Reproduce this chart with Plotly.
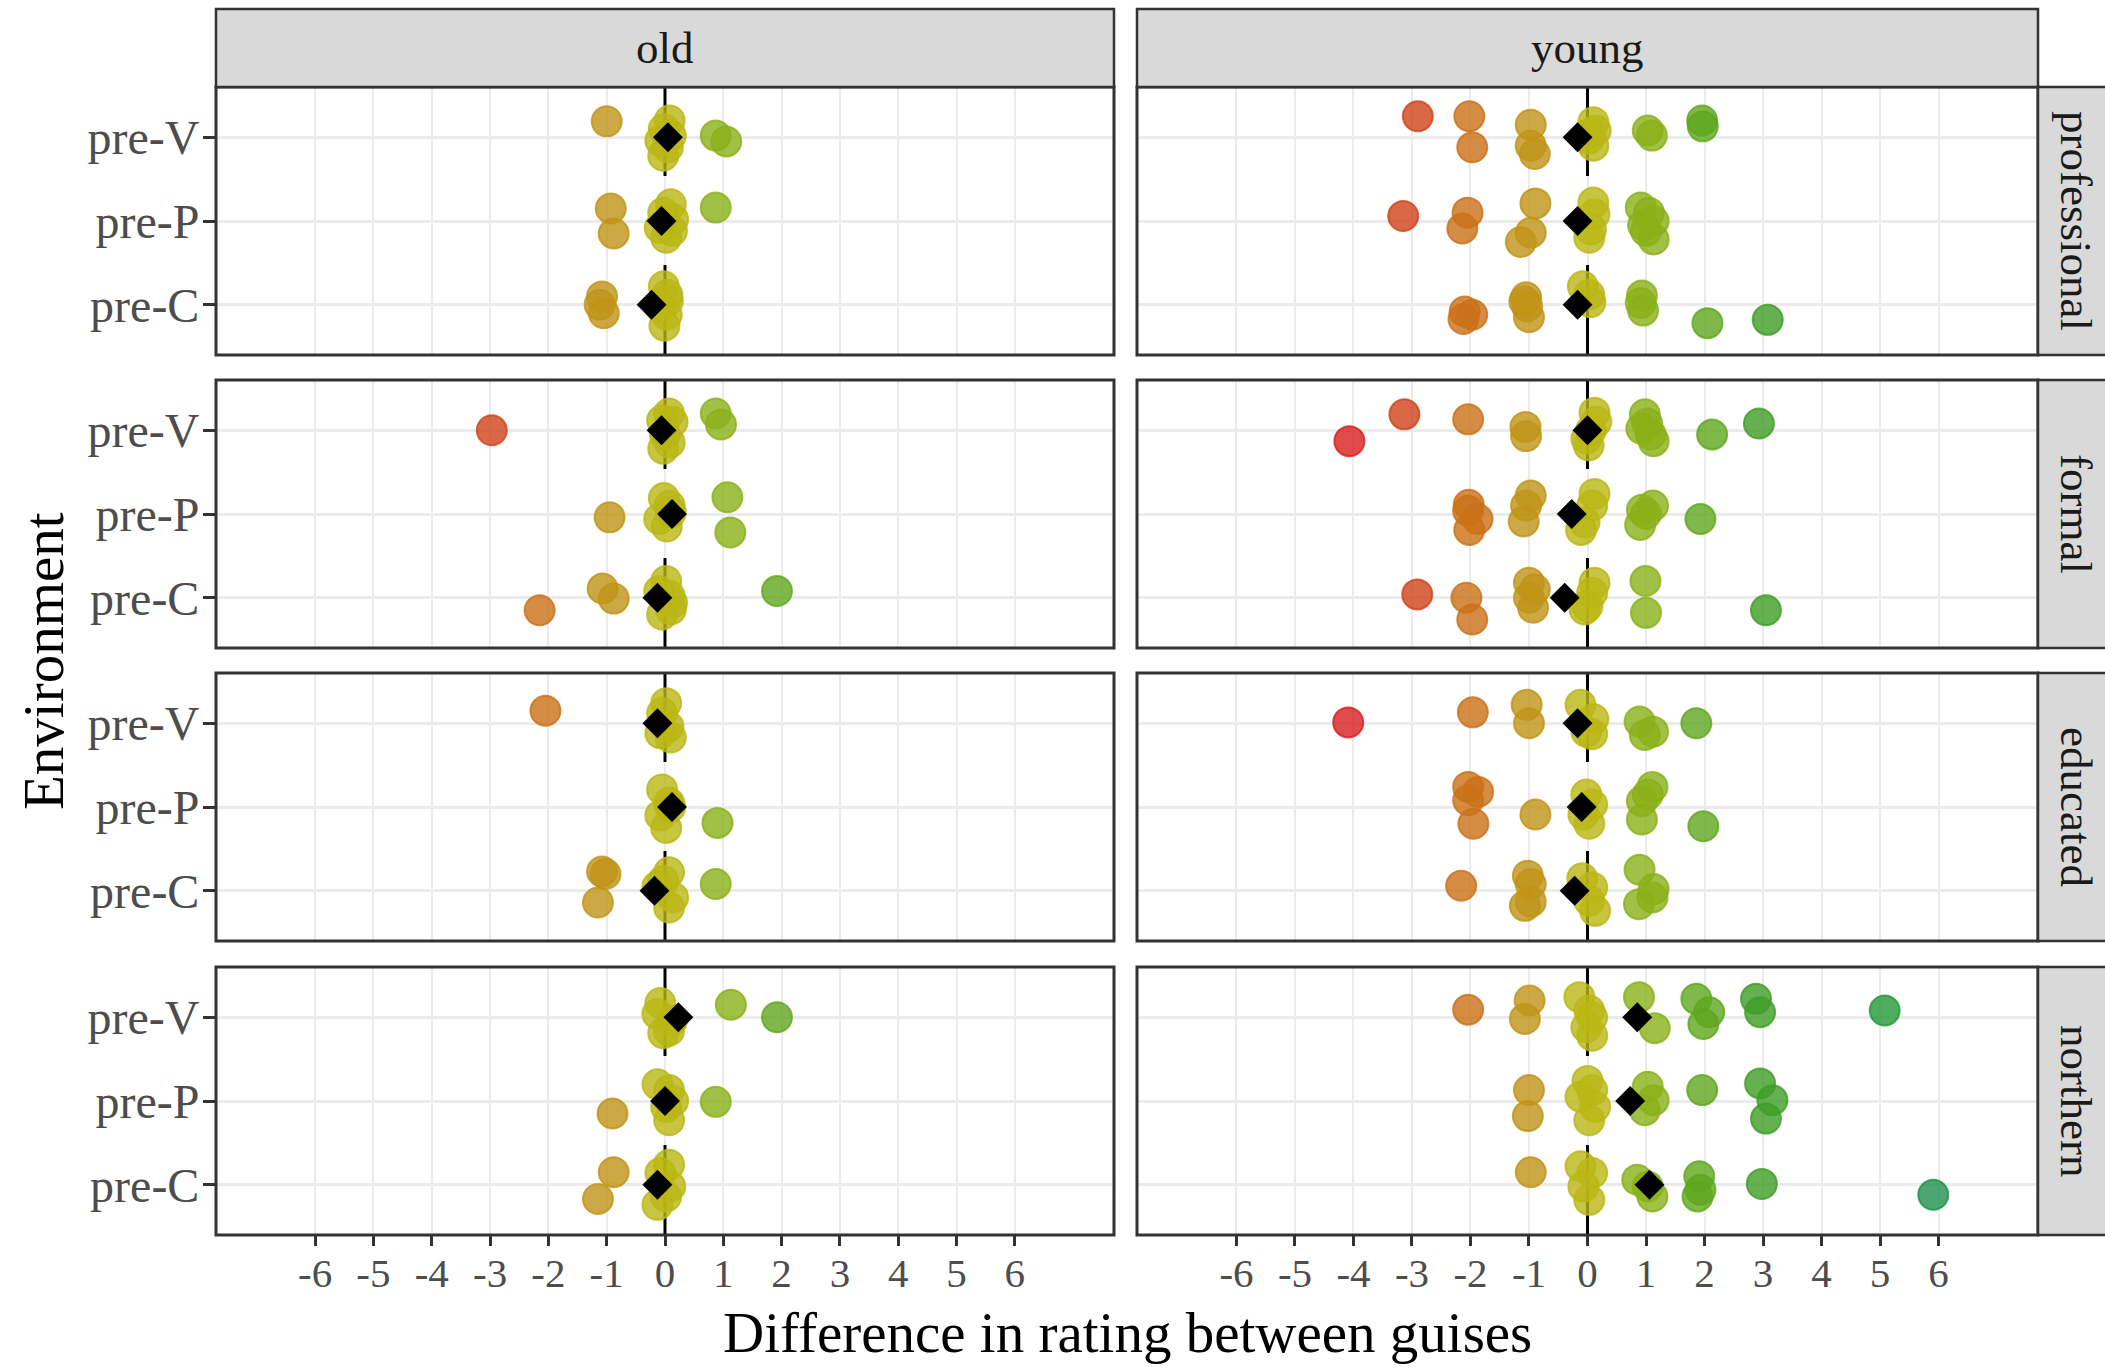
import plotly.graph_objects as go

W, H = 2105, 1369
FONT = "Liberation Serif"

environments = ["pre-C", "pre-P", "pre-V"]          # bottom -> top
ages = ["old", "young"]
registers = ["professional", "formal", "educated", "northern"]
x_ticks = list(range(-6, 7))
mean_env_order = ["pre-V", "pre-P", "pre-C"]
reference_x = 0

# colour scale anchors (difference value -> colour)
scale_values = [-4, -3, -2, -1, 0, 1, 2, 3, 4, 5, 6]
scale_colors = [(218, 30, 30), (208, 66, 26), (202, 112, 24), (192, 148, 22),
                (186, 182, 20), (138, 176, 24), (95, 166, 30), (62, 158, 38),
                (45, 155, 48), (35, 152, 55), (30, 145, 75)]

# rows: (environment, difference, jittered x, vertical jitter)
old_professional = [
    ("pre-V", -1, -1.00, 0.19),
    ("pre-V", 0, 0.08, 0.20), ("pre-V", 0, -0.02, 0.10), ("pre-V", 0, -0.08, -0.04),
    ("pre-V", 0, 0.05, -0.12), ("pre-V", 0, -0.03, -0.22), ("pre-V", 0, 0.10, 0.02),
    ("pre-V", 1, 0.87, 0.02), ("pre-V", 1, 1.05, -0.05),
    ("pre-P", -1, -0.93, 0.15), ("pre-P", -1, -0.88, -0.15),
    ("pre-P", 0, 0.10, 0.20), ("pre-P", 0, -0.03, 0.10), ("pre-P", 0, -0.09, -0.08),
    ("pre-P", 0, 0.12, -0.12), ("pre-P", 0, 0.02, -0.20), ("pre-P", 0, 0.14, 0.02),
    ("pre-P", 1, 0.87, 0.16),
    ("pre-C", -1, -1.08, 0.10), ("pre-C", -1, -1.05, -0.10), ("pre-C", -1, -1.12, 0.00),
    ("pre-C", 0, -0.02, 0.22), ("pre-C", 0, 0.04, 0.12), ("pre-C", 0, -0.09, -0.02),
    ("pre-C", 0, 0.03, -0.12), ("pre-C", 0, -0.01, -0.25), ("pre-C", 0, 0.05, 0.05),
]
young_professional = [
    ("pre-V", -3, -2.90, 0.25), ("pre-V", -2, -2.02, 0.25), ("pre-V", -2, -1.97, -0.12),
    ("pre-V", -1, -0.97, 0.15), ("pre-V", -1, -0.97, -0.10), ("pre-V", -1, -0.90, -0.20),
    ("pre-V", 0, 0.10, 0.18), ("pre-V", 0, 0.14, 0.08), ("pre-V", 0, 0.02, -0.02),
    ("pre-V", 0, 0.10, -0.10), ("pre-V", 0, 0.05, 0.05),
    ("pre-V", 1, 1.03, 0.08), ("pre-V", 1, 1.10, 0.02),
    ("pre-V", 2, 1.96, 0.20), ("pre-V", 2, 1.97, 0.13),
    ("pre-P", -3, -3.15, 0.06), ("pre-P", -2, -2.05, 0.10), ("pre-P", -2, -2.14, -0.09),
    ("pre-P", -1, -0.89, 0.21), ("pre-P", -1, -0.97, -0.14), ("pre-P", -1, -1.14, -0.25),
    ("pre-P", 0, 0.10, 0.22), ("pre-P", 0, 0.12, 0.08), ("pre-P", 0, 0.06, -0.10),
    ("pre-P", 0, 0.03, -0.20),
    ("pre-P", 1, 0.91, 0.16), ("pre-P", 1, 1.05, 0.10), ("pre-P", 1, 1.13, 0.00),
    ("pre-P", 1, 0.95, -0.05), ("pre-P", 1, 1.13, -0.22), ("pre-P", 1, 1.00, -0.12),
    ("pre-C", -2, -2.10, -0.08), ("pre-C", -2, -1.97, -0.12), ("pre-C", -2, -2.12, -0.17),
    ("pre-C", -1, -1.05, 0.09), ("pre-C", -1, -1.03, -0.02), ("pre-C", -1, -1.00, -0.15),
    ("pre-C", -1, -1.08, 0.04),
    ("pre-C", 0, -0.08, 0.22), ("pre-C", 0, 0.03, 0.12), ("pre-C", 0, 0.05, 0.03),
    ("pre-C", 1, 0.93, 0.11), ("pre-C", 1, 0.91, 0.02), ("pre-C", 1, 0.95, -0.07),
    ("pre-C", 2, 2.05, -0.22), ("pre-C", 3, 3.08, -0.18),
]
old_formal = [
    ("pre-V", -3, -2.97, 0.00),
    ("pre-V", 0, 0.07, 0.20), ("pre-V", 0, -0.05, 0.12), ("pre-V", 0, 0.13, 0.10),
    ("pre-V", 0, 0.00, -0.05), ("pre-V", 0, 0.08, -0.15), ("pre-V", 0, -0.03, -0.22),
    ("pre-V", 1, 0.87, 0.20), ("pre-V", 1, 0.96, 0.07),
    ("pre-P", -1, -0.95, -0.04),
    ("pre-P", 0, -0.02, 0.19), ("pre-P", 0, 0.08, 0.10), ("pre-P", 0, -0.10, -0.06),
    ("pre-P", 0, 0.03, -0.15), ("pre-P", 0, 0.10, 0.02),
    ("pre-P", 1, 1.07, 0.20), ("pre-P", 1, 1.12, -0.22),
    ("pre-C", -2, -2.15, -0.15), ("pre-C", -1, -1.07, 0.11), ("pre-C", -1, -0.88, -0.01),
    ("pre-C", 0, 0.02, 0.20), ("pre-C", 0, -0.10, 0.08), ("pre-C", 0, 0.12, -0.06),
    ("pre-C", 0, -0.05, -0.20), ("pre-C", 0, 0.08, 0.02), ("pre-C", 0, 0.10, -0.14),
    ("pre-C", 2, 1.92, 0.08),
]
young_formal = [
    ("pre-V", -4, -4.07, -0.13), ("pre-V", -3, -3.13, 0.19), ("pre-V", -2, -2.04, 0.13),
    ("pre-V", -1, -1.06, 0.04), ("pre-V", -1, -1.05, -0.07),
    ("pre-V", 0, 0.12, 0.21), ("pre-V", 0, 0.15, 0.10), ("pre-V", 0, -0.02, -0.10),
    ("pre-V", 0, 0.02, -0.18), ("pre-V", 0, 0.06, 0.00),
    ("pre-V", 1, 0.98, 0.19), ("pre-V", 1, 0.92, 0.02), ("pre-V", 1, 1.08, -0.05),
    ("pre-V", 1, 1.13, -0.13), ("pre-V", 1, 1.02, 0.08),
    ("pre-V", 2, 2.13, -0.05), ("pre-V", 3, 2.93, 0.08),
    ("pre-P", -2, -2.03, 0.11), ("pre-P", -2, -2.04, 0.04), ("pre-P", -2, -1.88, -0.06),
    ("pre-P", -2, -2.02, -0.19),
    ("pre-P", -1, -0.97, 0.22), ("pre-P", -1, -1.05, 0.10), ("pre-P", -1, -1.09, -0.09),
    ("pre-P", 0, 0.12, 0.24), ("pre-P", 0, 0.08, 0.10), ("pre-P", 0, -0.11, -0.19),
    ("pre-P", 0, -0.05, -0.10),
    ("pre-P", 1, 0.93, 0.05), ("pre-P", 1, 1.12, 0.10), ("pre-P", 1, 0.90, -0.13),
    ("pre-P", 1, 1.00, 0.00),
    ("pre-P", 2, 1.93, -0.06),
    ("pre-C", -3, -2.91, 0.04), ("pre-C", -2, -2.07, 0.00), ("pre-C", -2, -1.97, -0.26),
    ("pre-C", -1, -1.00, 0.18), ("pre-C", -1, -0.90, 0.10), ("pre-C", -1, -0.93, -0.12),
    ("pre-C", -1, -1.00, 0.00),
    ("pre-C", 0, 0.12, 0.18), ("pre-C", 0, 0.08, 0.06), ("pre-C", 0, 0.00, -0.10),
    ("pre-C", 0, -0.05, -0.14),
    ("pre-C", 1, 0.99, 0.20), ("pre-C", 1, 1.00, -0.18), ("pre-C", 3, 3.05, -0.15),
]
old_educated = [
    ("pre-V", -2, -2.05, 0.15),
    ("pre-V", 0, 0.02, 0.24), ("pre-V", 0, -0.05, 0.12), ("pre-V", 0, 0.06, -0.04),
    ("pre-V", 0, -0.08, -0.12), ("pre-V", 0, 0.10, -0.17),
    ("pre-P", 0, -0.05, 0.21), ("pre-P", 0, 0.07, 0.05), ("pre-P", 0, -0.08, -0.10),
    ("pre-P", 0, 0.02, -0.25), ("pre-P", 0, 0.09, 0.00),
    ("pre-P", 1, 0.90, -0.19),
    ("pre-C", -1, -1.08, 0.23), ("pre-C", -1, -1.15, -0.14), ("pre-C", -1, -1.02, 0.20),
    ("pre-C", 0, 0.07, 0.22), ("pre-C", 0, -0.13, 0.05), ("pre-C", 0, 0.14, -0.08),
    ("pre-C", 0, 0.07, -0.20), ("pre-C", 0, -0.03, 0.12),
    ("pre-C", 1, 0.87, 0.08),
]
young_educated = [
    ("pre-V", -4, -4.09, 0.01), ("pre-V", -2, -1.96, 0.13),
    ("pre-V", -1, -1.04, 0.22), ("pre-V", -1, -1.00, 0.00),
    ("pre-V", 0, -0.12, 0.22), ("pre-V", 0, 0.10, 0.05), ("pre-V", 0, -0.02, -0.10),
    ("pre-V", 0, 0.08, -0.13),
    ("pre-V", 1, 0.89, 0.02), ("pre-V", 1, 1.12, -0.10), ("pre-V", 1, 0.98, -0.14),
    ("pre-V", 2, 1.86, 0.00),
    ("pre-P", -2, -2.04, 0.24), ("pre-P", -2, -1.87, 0.18), ("pre-P", -2, -2.04, 0.08),
    ("pre-P", -2, -1.95, -0.20), ("pre-P", -1, -0.89, -0.09),
    ("pre-P", 0, -0.02, 0.15), ("pre-P", 0, 0.08, 0.03), ("pre-P", 0, 0.03, -0.20),
    ("pre-P", 0, -0.07, -0.09),
    ("pre-P", 1, 1.11, 0.24), ("pre-P", 1, 0.93, 0.07), ("pre-P", 1, 0.93, -0.15),
    ("pre-P", 1, 1.03, 0.15), ("pre-P", 2, 1.98, -0.23),
    ("pre-C", -2, -2.16, 0.06),
    ("pre-C", -1, -1.02, 0.18), ("pre-C", -1, -0.97, 0.08), ("pre-C", -1, -1.07, -0.18),
    ("pre-C", -1, -0.97, -0.13),
    ("pre-C", 0, -0.09, 0.15), ("pre-C", 0, 0.08, 0.04), ("pre-C", 0, 0.03, -0.12),
    ("pre-C", 0, 0.13, -0.24),
    ("pre-C", 1, 0.89, 0.25), ("pre-C", 1, 1.13, 0.02), ("pre-C", 1, 0.88, -0.16),
    ("pre-C", 1, 1.11, -0.08),
]
old_northern = [
    ("pre-V", 0, -0.08, 0.17), ("pre-V", 0, -0.13, 0.04), ("pre-V", 0, 0.07, -0.16),
    ("pre-V", 0, -0.03, -0.19), ("pre-V", 0, 0.12, -0.04),
    ("pre-V", 1, 1.13, 0.15), ("pre-V", 2, 1.92, 0.00),
    ("pre-P", -1, -0.90, -0.15),
    ("pre-P", 0, -0.13, 0.20), ("pre-P", 0, 0.07, 0.13), ("pre-P", 0, 0.02, -0.07),
    ("pre-P", 0, 0.07, -0.23), ("pre-P", 0, 0.14, 0.00),
    ("pre-P", 1, 0.87, -0.01),
    ("pre-C", -1, -0.88, 0.15), ("pre-C", -1, -1.15, -0.17),
    ("pre-C", 0, 0.07, 0.24), ("pre-C", 0, -0.08, 0.14), ("pre-C", 0, 0.09, -0.02),
    ("pre-C", 0, -0.13, -0.24), ("pre-C", 0, 0.02, -0.14),
]
young_northern = [
    ("pre-V", -2, -2.04, 0.09), ("pre-V", -1, -0.99, 0.20), ("pre-V", -1, -1.07, -0.02),
    ("pre-V", 0, -0.14, 0.24), ("pre-V", 0, 0.03, 0.08), ("pre-V", 0, -0.02, -0.12),
    ("pre-V", 0, 0.08, -0.22), ("pre-V", 0, 0.08, 0.00),
    ("pre-V", 1, 0.88, 0.24), ("pre-V", 1, 1.15, -0.13),
    ("pre-V", 2, 1.86, 0.22), ("pre-V", 2, 2.08, 0.06), ("pre-V", 2, 1.98, -0.08),
    ("pre-V", 3, 2.88, 0.22), ("pre-V", 3, 2.95, 0.06), ("pre-V", 5, 5.08, 0.08),
    ("pre-P", -1, -1.00, 0.13), ("pre-P", -1, -1.02, -0.18),
    ("pre-P", 0, 0.00, 0.24), ("pre-P", 0, -0.12, 0.05), ("pre-P", 0, 0.13, -0.07),
    ("pre-P", 0, 0.03, -0.23), ("pre-P", 0, 0.08, 0.13),
    ("pre-P", 1, 1.03, 0.17), ("pre-P", 1, 1.13, 0.01), ("pre-P", 1, 0.98, -0.11),
    ("pre-P", 2, 1.96, 0.13),
    ("pre-P", 3, 2.95, 0.21), ("pre-P", 3, 3.16, 0.01), ("pre-P", 3, 3.05, -0.21),
    ("pre-C", -1, -0.97, 0.15),
    ("pre-C", 0, -0.12, 0.22), ("pre-C", 0, 0.08, 0.14), ("pre-C", 0, 0.03, -0.18),
    ("pre-C", 0, -0.07, -0.02),
    ("pre-C", 1, 0.85, 0.06), ("pre-C", 1, 1.11, -0.14), ("pre-C", 1, 1.03, -0.02),
    ("pre-C", 2, 1.91, 0.10), ("pre-C", 2, 1.93, -0.06), ("pre-C", 2, 1.88, -0.14),
    ("pre-C", 3, 2.98, 0.01), ("pre-C", 6, 5.91, -0.12),
]

# group means (pre-V, pre-P, pre-C)
mean_old_professional = [0.05, -0.06, -0.23]
mean_young_professional = [-0.17, -0.17, -0.17]
mean_old_formal = [-0.06, 0.12, -0.13]
mean_young_formal = [0.00, -0.27, -0.39]
mean_old_educated = [-0.13, 0.12, -0.18]
mean_young_educated = [-0.17, -0.10, -0.22]
mean_old_northern = [0.23, 0.00, -0.13]
mean_young_northern = [0.85, 0.73, 1.06]

panels = {
    ("old", "professional"): (old_professional, mean_old_professional),
    ("young", "professional"): (young_professional, mean_young_professional),
    ("old", "formal"): (old_formal, mean_old_formal),
    ("young", "formal"): (young_formal, mean_young_formal),
    ("old", "educated"): (old_educated, mean_old_educated),
    ("young", "educated"): (young_educated, mean_young_educated),
    ("old", "northern"): (old_northern, mean_old_northern),
    ("young", "northern"): (young_northern, mean_young_northern),
}

# ---------------- layout geometry (pixels) ----------------
col_px = [(216, 1114), (1137, 2038)]
row_px = [(87, 355), (380, 648), (673, 941), (967, 1235)]
strip_top = (9, 87)
right_strip = (2038, 2125)
y_range = [0.4, 3.6]

cmin, cmax = min(scale_values), max(scale_values)
fill_scale = [[(v - cmin) / (cmax - cmin), "rgba(%d,%d,%d,0.8)" % c]
              for v, c in zip(scale_values, scale_colors)]

fig = go.Figure()
layout = dict(width=W, height=H, margin=dict(l=0, r=0, t=0, b=0),
              paper_bgcolor="white", plot_bgcolor="white", showlegend=False,
              font=dict(family=FONT), shapes=[], annotations=[])

for ri, reg in enumerate(registers):
    for ci, age in enumerate(ages):
        k = ri * 2 + ci + 1
        xa = "x" if k == 1 else "x%d" % k
        ya = "y" if k == 1 else "y%d" % k
        xl = "xaxis" if k == 1 else "xaxis%d" % k
        yl = "yaxis" if k == 1 else "yaxis%d" % k
        x0p, x1p = col_px[ci]
        t, b = row_px[ri]
        bottom = ri == len(registers) - 1
        left = ci == 0
        layout[xl] = dict(
            domain=[x0p / W, x1p / W], anchor=ya, range=[-7.7, 7.7],
            tickvals=x_ticks, ticktext=[str(v) for v in x_ticks],
            showticklabels=bottom, ticks="outside" if bottom else "",
            ticklen=10, tickwidth=2.5, tickcolor="#333333", ticklabelstandoff=-8,
            tickfont=dict(family=FONT, size=41, color="#4D4D4D"),
            showgrid=True, gridcolor="#EBEBEB", gridwidth=2.3, zeroline=False,
            showline=False, fixedrange=True)
        layout[yl] = dict(
            domain=[1 - b / H, 1 - t / H], anchor=xa, range=y_range,
            tickvals=[1, 2, 3], ticktext=environments,
            showticklabels=left, ticks="outside" if left else "",
            ticklen=12, tickwidth=3, tickcolor="#333333", ticklabelstandoff=-6,
            tickfont=dict(family=FONT, size=48, color="#4D4D4D"),
            showgrid=True, gridcolor="#EBEBEB", gridwidth=3, zeroline=False,
            showline=False, fixedrange=True)

        # panel border
        layout["shapes"].append(dict(
            type="rect", xref=xa + " domain", yref=ya + " domain", x0=0, x1=1, y0=0, y1=1,
            line=dict(color="#333333", width=3), fillcolor="rgba(0,0,0,0)", layer="above"))

        # dashed zero reference line (above grid, below points)
        fig.add_trace(go.Scatter(
            x=[reference_x, reference_x], y=[y_range[1], y_range[0]], xaxis=xa, yaxis=ya,
            mode="lines", hoverinfo="skip",
            line=dict(color="black", width=3, dash="89px,89px")))

        rows, means = panels[(age, reg)]
        xs = [r[2] for r in rows]
        ys = [environments.index(r[0]) + 1 + r[3] for r in rows]
        cs = [r[1] for r in rows]
        fig.add_trace(go.Scatter(
            x=xs, y=ys, xaxis=xa, yaxis=ya, mode="markers", hoverinfo="skip",
            marker=dict(size=30, color=cs, colorscale=fill_scale, cmin=cmin, cmax=cmax,
                        line=dict(width=2, color=cs, colorscale=fill_scale,
                                  cmin=cmin, cmax=cmax))))
        fig.add_trace(go.Scatter(
            x=means, y=[environments.index(e) + 1 for e in mean_env_order],
            xaxis=xa, yaxis=ya, mode="markers", hoverinfo="skip",
            marker=dict(symbol="diamond", size=23, color="black", line=dict(width=0))))

# top strips
for ci, age in enumerate(ages):
    x0p, x1p = col_px[ci]
    layout["shapes"].append(dict(
        type="rect", xref="paper", yref="paper", x0=x0p / W, x1=x1p / W,
        y0=1 - strip_top[1] / H, y1=1 - strip_top[0] / H,
        fillcolor="#D9D9D9", line=dict(color="#333333", width=2.5), layer="above"))
    layout["annotations"].append(dict(
        text=age, xref="paper", yref="paper", x=(x0p + x1p) / 2 / W,
        y=1 - (strip_top[0] + strip_top[1]) / 2 / H, showarrow=False,
        xanchor="center", yanchor="middle",
        font=dict(family=FONT, size=45, color="#1A1A1A")))

# right strips
for ri, reg in enumerate(registers):
    t, b = row_px[ri]
    layout["shapes"].append(dict(
        type="rect", xref="paper", yref="paper", x0=right_strip[0] / W, x1=right_strip[1] / W,
        y0=1 - b / H, y1=1 - t / H,
        fillcolor="#D9D9D9", line=dict(color="#333333", width=2.5), layer="above"))
    layout["annotations"].append(dict(
        text=reg, xref="paper", yref="paper", x=2076 / W, y=1 - (t + b) / 2 / H,
        showarrow=False, textangle=90, xanchor="center", yanchor="middle",
        font=dict(family=FONT, size=45, color="#1A1A1A")))

# axis titles
layout["annotations"].append(dict(
    text="Difference in rating between guises", xref="paper", yref="paper",
    x=(col_px[0][0] + col_px[1][1]) / 2 / W, y=1 - 1332 / H, showarrow=False,
    xanchor="center", yanchor="middle", font=dict(family=FONT, size=57, color="black")))
layout["annotations"].append(dict(
    text="Environment", xref="paper", yref="paper", x=43 / W,
    y=1 - (row_px[0][0] + row_px[-1][1]) / 2 / H, showarrow=False, textangle=-90,
    xanchor="center", yanchor="middle", font=dict(family=FONT, size=57, color="black")))

fig.update_layout(**layout)
fig.write_html("out.html", config={"displayModeBar": False},
               post_script="document.body.style.margin='0px';document.body.style.overflow='hidden';")
